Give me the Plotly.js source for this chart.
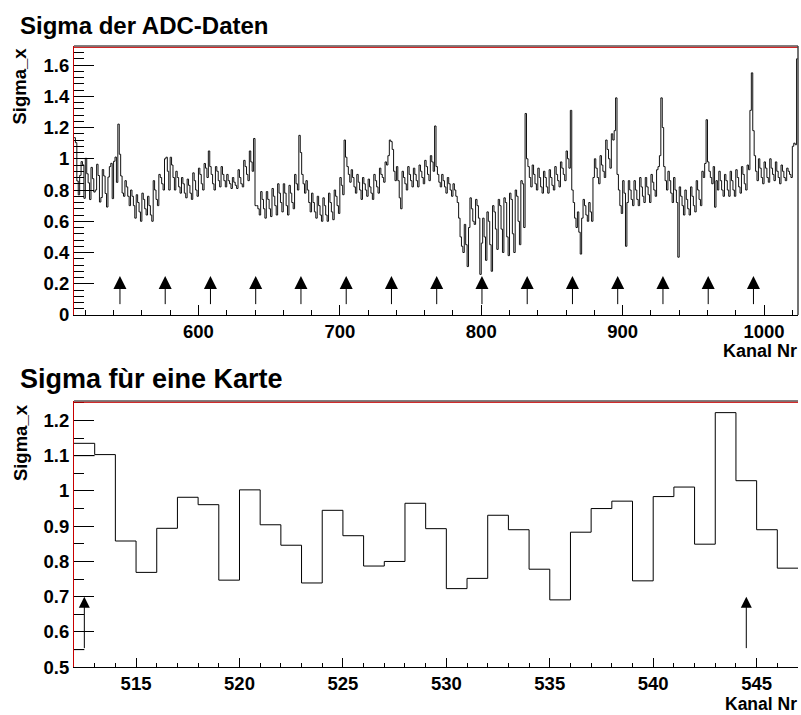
<!DOCTYPE html>
<html>
<head>
<meta charset="utf-8">
<script src="https://cdn.plot.ly/plotly-3.0.1.min.js"></script>
<style>
html,body{margin:0;padding:0;background:#ffffff;}
#chart{width:801px;height:715px;}
</style>
</head>
<body>
<div id="chart"></div>
<script>
// ---- Data: sigma per ADC channel, one array per 32-channel card (channels 512..1023) ----
const card01 = [1.135, 1.103, 0.858, 0.769, 0.894, 0.982, 0.961, 0.747, 1.003, 0.904, 0.846, 0.739, 0.945, 0.873, 0.787, 0.800,
                0.965, 0.893, 0.723, 0.752, 0.931, 0.890, 0.778, 0.691, 0.883, 0.950, 0.971, 0.745, 0.984, 1.011, 0.849, 1.222];
const card02 = [1.029, 0.890, 0.781, 0.76, 0.86, 0.82, 0.76, 0.70, 0.80, 0.76, 0.70, 0.62, 0.77, 0.72, 0.66, 0.60,
                0.78, 0.74, 0.68, 0.64, 0.76, 0.70, 0.64, 0.60, 0.86, 0.80, 0.74, 0.70, 0.90, 0.88, 0.84, 0.80];
const card03 = [1.00, 1.01, 0.92, 0.80, 1.01, 0.96, 0.88, 0.80, 0.92, 0.88, 0.82, 0.78, 0.88, 0.84, 0.78, 0.75,
                0.87, 0.83, 0.78, 0.74, 0.91, 0.86, 0.80, 0.76, 0.94, 0.90, 0.84, 0.80, 0.97, 0.94, 0.88, 1.05];
const card04 = [0.95, 0.90, 0.84, 0.80, 0.95, 0.92, 0.86, 0.82, 0.95, 0.90, 0.86, 0.82, 0.90, 0.86, 0.84, 0.81,
                0.88, 0.85, 0.83, 0.81, 0.93, 0.88, 0.84, 0.82, 0.99, 0.95, 0.90, 0.86, 1.05, 0.98, 0.92, 1.13];
const card05 = [0.70, 0.70, 0.68, 0.64, 0.79, 0.74, 0.68, 0.62, 0.79, 0.74, 0.68, 0.63, 0.81, 0.76, 0.70, 0.64,
                0.84, 0.78, 0.72, 0.66, 0.84, 0.78, 0.70, 0.64, 0.83, 0.78, 0.72, 0.68, 0.90, 0.84, 0.80, 1.15];
const card06 = [1.04, 0.90, 0.84, 0.78, 0.86, 0.80, 0.72, 0.66, 0.78, 0.72, 0.66, 0.62, 0.76, 0.70, 0.64, 0.60,
                0.75, 0.70, 0.64, 0.60, 0.78, 0.72, 0.66, 0.61, 0.80, 0.76, 0.70, 0.65, 0.88, 0.83, 0.77, 1.12];
const card07 = [1.01, 0.95, 0.90, 0.85, 0.93, 0.88, 0.82, 0.78, 0.90, 0.85, 0.80, 0.74, 0.88, 0.84, 0.80, 0.76,
                0.87, 0.82, 0.78, 0.74, 0.90, 0.86, 0.82, 0.78, 0.94, 0.90, 0.88, 0.85, 0.98, 0.96, 1.02, 1.12];
const card08 = [1.11, 1.06, 0.92, 0.86, 0.95, 0.86, 0.75, 0.68, 0.92, 0.88, 0.84, 0.80, 0.95, 0.90, 0.86, 0.82,
                0.94, 0.90, 0.86, 0.82, 0.96, 0.92, 0.88, 0.84, 0.99, 0.95, 0.90, 0.86, 1.02, 0.98, 0.92, 1.21];
const card09 = [0.95, 0.90, 0.85, 0.82, 0.90, 0.86, 0.82, 0.78, 0.88, 0.84, 0.80, 0.76, 0.84, 0.80, 0.76, 0.72,
                0.62, 0.50, 0.44, 0.40, 0.58, 0.45, 0.31, 0.56, 0.75, 0.68, 0.60, 0.58, 0.74, 0.70, 0.62, 0.26];
const card10 = [0.46, 0.62, 0.50, 0.35, 0.66, 0.60, 0.45, 0.28, 0.70, 0.66, 0.55, 0.42, 0.74, 0.70, 0.55, 0.40,
                0.75, 0.72, 0.50, 0.38, 0.78, 0.74, 0.52, 0.40, 0.80, 0.76, 0.60, 0.45, 0.86, 0.84, 0.56, 1.29];
const card11 = [1.00, 0.95, 0.88, 0.82, 0.96, 0.90, 0.84, 0.80, 0.94, 0.88, 0.82, 0.78, 0.92, 0.88, 0.82, 0.78,
                0.93, 0.88, 0.83, 0.80, 0.95, 0.90, 0.86, 0.82, 0.98, 0.94, 0.90, 0.86, 1.05, 1.00, 0.94, 1.31];
const card12 = [0.80, 0.72, 0.62, 0.56, 0.66, 0.53, 0.39, 0.62, 0.74, 0.70, 0.64, 0.60, 0.72, 0.66, 0.60, 0.88,
                1.00, 0.94, 0.88, 0.84, 1.02, 0.96, 0.92, 0.88, 1.12, 1.06, 1.00, 0.94, 1.16, 1.12, 1.18, 1.39];
const card13 = [0.90, 0.80, 0.70, 0.65, 0.86, 0.78, 0.44, 0.72, 0.86, 0.80, 0.74, 0.70, 0.86, 0.80, 0.74, 0.70,
                0.88, 0.82, 0.76, 0.72, 0.88, 0.82, 0.77, 0.72, 0.90, 0.85, 0.80, 0.76, 0.93, 0.95, 1.02, 1.39];
const card14 = [1.20, 0.95, 0.86, 0.80, 0.92, 0.86, 0.78, 0.72, 0.88, 0.80, 0.72, 0.37, 0.82, 0.76, 0.70, 0.64,
                0.80, 0.74, 0.68, 0.64, 0.82, 0.76, 0.70, 0.66, 0.86, 0.80, 0.74, 0.70, 0.92, 0.88, 0.97, 1.25];
const card15 = [0.98, 0.92, 0.88, 0.84, 0.95, 0.69, 0.86, 0.80, 0.92, 0.86, 0.80, 0.76, 0.90, 0.86, 0.80, 0.76,
                0.92, 0.86, 0.80, 0.76, 0.93, 0.88, 0.82, 0.78, 0.95, 0.90, 0.84, 0.80, 0.96, 0.93, 1.31, 1.55];
const card16 = [1.18, 1.02, 0.92, 0.86, 1.00, 0.94, 0.88, 0.84, 0.98, 0.94, 0.88, 0.85, 1.00, 0.94, 0.90, 0.86,
                0.98, 0.92, 0.88, 0.84, 0.96, 0.92, 0.88, 0.86, 0.94, 0.92, 0.90, 0.88, 1.08, 1.10, 1.09, 1.64];

const firstChannel = 512;       // first ADC channel shown
const zoomBinCount = 35;        // channels shown in the lower "one card" panel

// marker arrows (channel positions and arrow extent in sigma units)
const arrowChannelsTop = [544.5, 576.5, 608.5, 640.5, 672.5, 704.5, 736.5, 768.5, 800.5, 832.5, 864.5, 896.5, 928.5, 960.5, 992.5];
const arrowTopFrom = 0.06, arrowTopTo = 0.25;
const arrowChannelsZoom = [512.5, 544.5];
const arrowZoomFrom = 0.55, arrowZoomTo = 0.70;

// small extra segments visible in the lower panel
const extraZoomX = [512, 513, null, 512, 512.5];
const extraZoomY = [1.10, 1.10, null, 0.55, 0.55];

// texts
const titleTop = 'Sigma der ADC-Daten';
const titleBottom = 'Sigma fùr eine Karte';
const xTitle = 'Kanal Nr';
const yTitle = 'Sigma_x';

// ---- build ----
const sigma = [].concat(card01, card02, card03, card04, card05, card06, card07, card08,
                        card09, card10, card11, card12, card13, card14, card15, card16);

function histSteps(vals, start) {
  const x = [], y = [];
  for (let i = 0; i < vals.length; i++) { x.push(start + i); y.push(vals[i]); }
  x.push(start + vals.length); y.push(vals[vals.length - 1]);
  return {x, y};
}
const topH = histSteps(sigma, firstChannel);
const zoomVals = sigma.slice(0, zoomBinCount);
const botH = histSteps(zoomVals, firstChannel);

const FONT = 'Liberation Sans, Arial, Helvetica, sans-serif';
const BLACK = '#000000';
const RED = 'rgb(200,0,0)';

const traces = [
  {x: topH.x, y: topH.y, xaxis: 'x', yaxis: 'y', type: 'scatter', mode: 'lines',
   line: {shape: 'hv', color: '#111111', width: 1}, hoverinfo: 'skip'},
  {x: botH.x, y: botH.y, xaxis: 'x2', yaxis: 'y2', type: 'scatter', mode: 'lines',
   line: {shape: 'hv', color: BLACK, width: 1}, hoverinfo: 'skip'},
  {x: extraZoomX, y: extraZoomY, xaxis: 'x2', yaxis: 'y2', type: 'scatter', mode: 'lines',
   line: {color: BLACK, width: 1}, hoverinfo: 'skip', connectgaps: false}
];

const tickFont = {family: FONT, size: 18.5, color: BLACK, weight: 'bold'};
function xAxis(anchor, range, dtick, minorDtick, len, minorLen) {
  return {anchor: anchor, domain: [0, 1], range: range, dtick: dtick, tick0: 0,
    ticks: 'inside', ticklen: len, tickwidth: 1, tickcolor: BLACK,
    minor: {dtick: minorDtick, tick0: 0, ticks: 'inside', ticklen: minorLen, tickwidth: 1, tickcolor: BLACK, showgrid: false},
    showline: true, linecolor: BLACK, linewidth: 1, showgrid: false, zeroline: false,
    tickfont: tickFont, fixedrange: true};
}
function yAxis(anchor, domain, range, dtick, minorDtick) {
  return {anchor: anchor, domain: domain, range: range, dtick: dtick, tick0: 0,
    ticks: 'inside', ticklen: 20, tickwidth: 1, tickcolor: BLACK,
    minor: {dtick: minorDtick, tick0: 0, ticks: 'inside', ticklen: 10, tickwidth: 1, tickcolor: BLACK, showgrid: false},
    showline: true, linecolor: RED, linewidth: 1, showgrid: false, zeroline: false,
    tickfont: tickFont, fixedrange: true};
}

const annotations = [];
arrowChannelsTop.forEach(c => annotations.push({
  xref: 'x', yref: 'y', axref: 'x', ayref: 'y', x: c, y: arrowTopTo, ax: c, ay: arrowTopFrom,
  text: '', showarrow: true, arrowhead: 2, arrowsize: 2.6, arrowwidth: 1, arrowcolor: BLACK
}));
arrowChannelsZoom.forEach(c => annotations.push({
  xref: 'x2', yref: 'y2', axref: 'x2', ayref: 'y2', x: c, y: arrowZoomTo, ax: c, ay: arrowZoomFrom,
  text: '', showarrow: true, arrowhead: 2, arrowsize: 2.2, arrowwidth: 1, arrowcolor: BLACK
}));
// titles
annotations.push({xref: 'paper', yref: 'paper', x: -0.078, y: 1.032, xanchor: 'left', yanchor: 'middle',
  text: titleTop, showarrow: false, font: {family: FONT, size: 24, color: BLACK, weight: 'bold'}});
annotations.push({xref: 'paper', yref: 'paper', x: -0.078, y: 0.467, xanchor: 'left', yanchor: 'middle',
  text: titleBottom, showarrow: false, font: {family: FONT, size: 27, color: BLACK, weight: 'bold'}});
// axis titles
annotations.push({xref: 'paper', yref: 'paper', x: 1.0, y: 0.512, xanchor: 'right', yanchor: 'middle', borderpad: 0,
  text: xTitle, showarrow: false, font: {family: FONT, size: 18, color: BLACK, weight: 'bold'}});
annotations.push({xref: 'paper', yref: 'paper', x: 1.0, y: -0.0535, xanchor: 'right', yanchor: 'middle', borderpad: 0,
  text: xTitle, showarrow: false, font: {family: FONT, size: 17.5, color: BLACK, weight: 'bold'}});
annotations.push({xref: 'paper', yref: 'paper', x: -0.0746, y: 1.0016, xanchor: 'center', yanchor: 'top',
  textangle: -90, text: yTitle, showarrow: false, font: {family: FONT, size: 18.5, color: BLACK, weight: 'bold'}});
annotations.push({xref: 'paper', yref: 'paper', x: -0.0746, y: 0.431, xanchor: 'center', yanchor: 'top',
  textangle: -90, text: yTitle, showarrow: false, font: {family: FONT, size: 18.5, color: BLACK, weight: 'bold'}});

const shapes = [
  // top panel frame: top (black + red), right
  {type: 'line', xref: 'x domain', yref: 'y domain', x0: 0, x1: 1, y0: 1, y1: 1, line: {color: BLACK, width: 1}},
  {type: 'line', xref: 'x domain', yref: 'y domain', x0: 0, x1: 1, y0: 0.995, y1: 0.995, line: {color: RED, width: 1}},
  {type: 'line', xref: 'x domain', yref: 'y domain', x0: 1, x1: 1, y0: 0, y1: 1, line: {color: '#444444', width: 1.5}},
  // bottom panel frame top
  {type: 'line', xref: 'x2 domain', yref: 'y2 domain', x0: 0, x1: 1, y0: 1, y1: 1, line: {color: BLACK, width: 1}},
  {type: 'line', xref: 'x2 domain', yref: 'y2 domain', x0: 0, x1: 1, y0: 0.995, y1: 0.995, line: {color: RED, width: 1}}
];

const layout = {
  width: 801, height: 715,
  margin: {l: 74, r: 3, t: 46, b: 44, pad: 0},
  paper_bgcolor: '#ffffff', plot_bgcolor: '#ffffff',
  showlegend: false,
  font: {family: FONT, size: 18.5, color: BLACK},
  xaxis: xAxis('y', [512, 1024], 100, 20, 10, 5),
  yaxis: yAxis('x', [0.5696, 1], [0, 1.722], 0.2, 0.04),
  xaxis2: xAxis('y2', [512, 547], 5, 1, 9, 4.5),
  yaxis2: yAxis('x2', [0.006, 0.432], [0.5, 1.255], 0.1, 0.05),
  annotations: annotations,
  shapes: shapes
};

Plotly.newPlot('chart', traces, layout, {staticPlot: true, displayModeBar: false});
</script>
</body>
</html>
